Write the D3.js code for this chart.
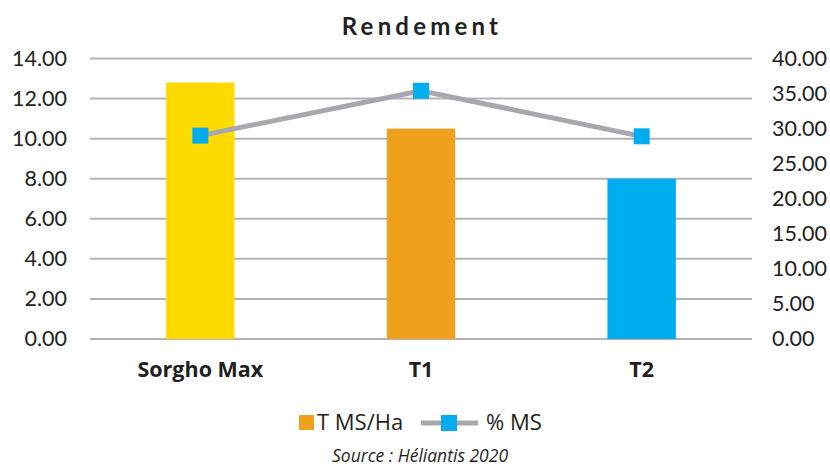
<!DOCTYPE html>
<html lang="fr">
<head>
<meta charset="UTF-8">
<title>Rendement</title>
<style>
    body { margin: 0; background: #fff; }
    svg { display: block; font-family: "Open Sans", Lato, sans-serif; }
    .tick text { fill: #231f20; }
</style>
</head>
<body>
<div id="container"></div>
<script src="https://d3js.org/d3.v7.min.js"></script>
<script>
// Data
var categories = ["Sorgho Max", "T1", "T2"];
var tmsHa = [12.8, 10.5, 8.0];
var pctMs = [29.0, 35.4, 28.9];
var leftTicks = [0, 2, 4, 6, 8, 10, 12, 14];
var rightTicks = [0, 5, 10, 15, 20, 25, 30, 35, 40];
var barColors = ["#fddb00", "#efa11c", "#00adef"];

var width = 830, height = 468;
var plot = { left: 90, right: 752, top: 58.5, bottom: 339 };

var svg = d3.select("#container").append("svg")
    .attr("width", width)
    .attr("height", height);

var x = d3.scaleBand()
    .domain(categories)
    .range([plot.left, plot.right])
    .paddingInner(0.69)
    .paddingOuter(0.345);

var y = d3.scaleLinear().domain([0, 14]).range([plot.bottom, plot.top]);
var y2 = d3.scaleLinear().domain([0, 40]).range([plot.bottom, plot.top]);

// Title
svg.append("text")
    .attr("x", 422)
    .attr("y", 35)
    .attr("text-anchor", "middle")
    .style("font-family", "Lato, sans-serif")
    .style("font-size", "24px")
    .style("font-weight", "bold")
    .style("letter-spacing", "4.2px")
    .style("fill", "#231f20")
    .text("Rendement");

// Gridlines
svg.append("g")
    .selectAll("line")
    .data(leftTicks)
    .enter()
    .append("line")
    .attr("x1", plot.left)
    .attr("x2", plot.right)
    .attr("y1", function (d) { return y(d); })
    .attr("y2", function (d) { return y(d); })
    .attr("stroke", "#b3b3b7")
    .attr("stroke-width", 2);

// Left axis
var leftAxis = svg.append("g")
    .attr("transform", "translate(" + plot.left + ",0)")
    .call(d3.axisLeft(y).tickValues(leftTicks).tickSize(0).tickPadding(23)
        .tickFormat(d3.format(".2f")));
leftAxis.select(".domain").remove();
leftAxis.selectAll("text").style("font-size", "21.5px").style("font-family", "Lato, sans-serif");

// Right axis
var rightAxis = svg.append("g")
    .attr("transform", "translate(" + plot.right + ",0)")
    .call(d3.axisRight(y2).tickValues(rightTicks).tickSize(0).tickPadding(20)
        .tickFormat(d3.format(".2f")));
rightAxis.select(".domain").remove();
rightAxis.selectAll("text").style("font-size", "21.5px").style("font-family", "Lato, sans-serif");

// Bars
svg.append("g")
    .selectAll("rect")
    .data(categories)
    .enter()
    .append("rect")
    .attr("x", function (d) { return x(d); })
    .attr("width", x.bandwidth())
    .attr("y", function (d, i) { return y(tmsHa[i]); })
    .attr("height", function (d, i) { return y(0) - y(tmsHa[i]); })
    .attr("fill", function (d, i) { return barColors[i]; });

// Category labels
svg.append("g")
    .selectAll("text")
    .data(categories)
    .enter()
    .append("text")
    .attr("x", function (d) { return x(d) + x.bandwidth() / 2; })
    .attr("y", 377)
    .attr("text-anchor", "middle")
    .style("font-size", "21.5px")
    .style("font-weight", "bold")
    .style("fill", "#231f20")
    .text(function (d) { return d; });

// Line for % MS
var line = d3.line()
    .x(function (d, i) { return x(categories[i]) + x.bandwidth() / 2; })
    .y(function (d) { return y2(d); });

svg.append("path")
    .datum(pctMs)
    .attr("d", line)
    .attr("fill", "none")
    .attr("stroke", "#a7a8ab")
    .attr("stroke-width", 5);

svg.append("g")
    .selectAll("rect")
    .data(pctMs)
    .enter()
    .append("rect")
    .attr("x", function (d, i) { return x(categories[i]) + x.bandwidth() / 2 - 8; })
    .attr("y", function (d) { return y2(d) - 8; })
    .attr("width", 16)
    .attr("height", 16)
    .attr("fill", "#00adef");

// Legend
var legend = svg.append("g");
legend.append("rect")
    .attr("x", 299).attr("y", 415)
    .attr("width", 15).attr("height", 15)
    .attr("fill", "#efa11c");
legend.append("text")
    .attr("x", 317).attr("y", 430)
    .style("font-size", "22px")
    .style("fill", "#231f20")
    .text("T MS/Ha");
legend.append("line")
    .attr("x1", 421).attr("x2", 478)
    .attr("y1", 423).attr("y2", 423)
    .attr("stroke", "#a7a8ab")
    .attr("stroke-width", 5);
legend.append("rect")
    .attr("x", 441).attr("y", 415)
    .attr("width", 16).attr("height", 16)
    .attr("fill", "#00adef");
legend.append("text")
    .attr("x", 486).attr("y", 430)
    .style("font-size", "22px")
    .style("fill", "#231f20")
    .text("% MS");

// Source
svg.append("text")
    .attr("x", 420)
    .attr("y", 462)
    .attr("text-anchor", "middle")
    .style("font-size", "17.5px")
    .style("font-style", "italic")
    .style("fill", "#231f20")
    .text("Source : Héliantis 2020");
</script>
</body>
</html>
